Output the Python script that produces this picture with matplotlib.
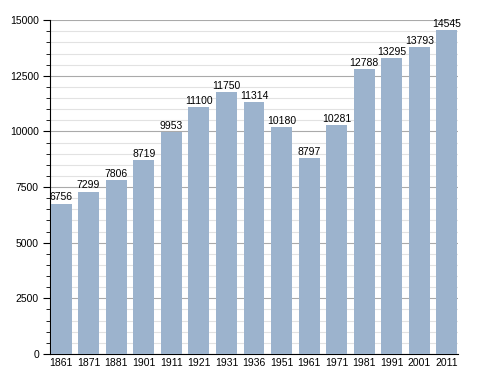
import matplotlib
matplotlib.use("Agg")
import matplotlib.pyplot as plt
from matplotlib.ticker import MultipleLocator

years = ["1861", "1871", "1881", "1901", "1911", "1921", "1931", "1936",
         "1951", "1961", "1971", "1981", "1991", "2001", "2011"]
population = [6756, 7299, 7806, 8719, 9953, 11100, 11750, 11314,
              10180, 8797, 10281, 12788, 13295, 13793, 14545]

plt.rcParams['font.family'] = ['Liberation Sans', 'DejaVu Sans']

fig = plt.figure(figsize=(4.88, 3.73), dpi=100)
ax = fig.add_axes([0.1025, 0.051, 0.836, 0.895])

x = range(len(years))
ax.bar(x, population, width=0.76, color="#9cb3cd", zorder=3)
for i, v in enumerate(population):
    ax.text(i, v + 60, str(v), ha="center", va="bottom", fontsize=7.5, zorder=4)

ax.set_xlim(-0.4, len(years) - 0.6)
ax.set_ylim(0, 15000)
ax.yaxis.set_major_locator(MultipleLocator(2500))
ax.yaxis.set_minor_locator(MultipleLocator(500))
ax.grid(which="major", axis="y", color="#aaaaaa", linewidth=0.8, zorder=1)
ax.grid(which="minor", axis="y", color="#e2e2e2", linewidth=0.8, zorder=0)
ax.set_xticks(list(x))
ax.set_xticklabels(years)
ax.tick_params(axis="x", length=0, labelsize=7.5, pad=3)
ax.tick_params(axis="y", which="major", length=5, labelsize=7.5, pad=3)
ax.tick_params(axis="y", which="minor", length=3)
for s in ["top", "right"]:
    ax.spines[s].set_visible(False)
ax.spines["left"].set_color("black")
ax.spines["bottom"].set_color("black")

fig.savefig("out.png", dpi=100)
